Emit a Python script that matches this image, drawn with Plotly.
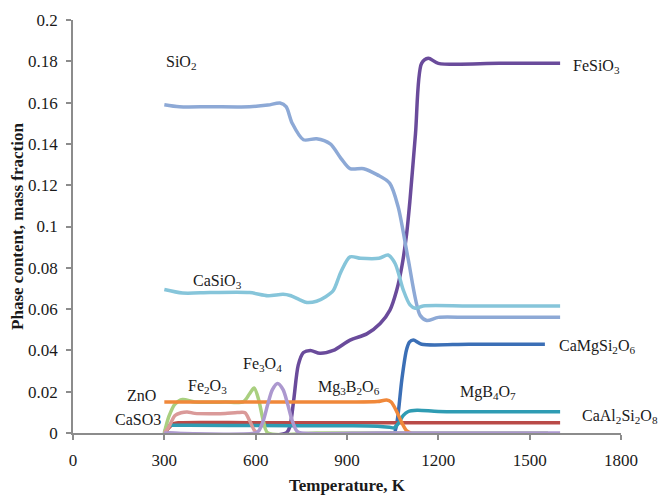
import plotly.graph_objects as go

# Phase composition versus temperature (mass fractions)
t_sio2 = [300, 350, 450, 580, 640, 680, 700, 720, 757, 800, 845, 880, 910, 955, 1000, 1040, 1068, 1100, 1140, 1162, 1200, 1300, 1600]
sio2 = [0.159, 0.158, 0.158, 0.158, 0.1588, 0.1598, 0.158, 0.150, 0.142, 0.1425, 0.140, 0.133, 0.128, 0.128, 0.125, 0.121, 0.1095, 0.085, 0.057, 0.0545, 0.056, 0.056, 0.056]

t_fesio3 = [300, 700, 712, 725, 740, 757, 780, 811, 855, 910, 965, 1009, 1041, 1063, 1080, 1096, 1107, 1125, 1145, 1167, 1200, 1400, 1600]
fesio3 = [0.0, 0.0, 0.003, 0.016, 0.033, 0.039, 0.040, 0.0386, 0.040, 0.045, 0.048, 0.053, 0.0595, 0.069, 0.0805, 0.0966, 0.113, 0.145, 0.179, 0.1815, 0.179, 0.179, 0.179]

t_casio3 = [300, 360, 450, 580, 640, 690, 713, 745, 768, 800, 830, 855, 880, 910, 945, 1005, 1035, 1058, 1085, 1107, 1124, 1150, 1300, 1600]
casio3 = [0.0695, 0.0678, 0.068, 0.068, 0.0665, 0.0672, 0.0666, 0.0645, 0.0632, 0.0638, 0.066, 0.069, 0.078, 0.0853, 0.0846, 0.0846, 0.0862, 0.0821, 0.0692, 0.062, 0.0604, 0.0615, 0.0615, 0.0615]

t_camgsi2o6 = [1040, 1055, 1065, 1080, 1095, 1105, 1118, 1145, 1300, 1550]
camgsi2o6 = [0.0, 0.0, 0.006, 0.0257, 0.040, 0.044, 0.045, 0.043, 0.043, 0.043]

t_mgb4o7 = [300, 312, 340, 600, 900, 1000, 1040, 1055, 1070, 1085, 1100, 1130, 1200, 1400, 1600]
mgb4o7 = [0.0, 0.0035, 0.0037, 0.0036, 0.0035, 0.0033, 0.0028, 0.0025, 0.005, 0.0085, 0.0103, 0.011, 0.0104, 0.0103, 0.0103]

t_caal2si2o8 = [300, 330, 350, 600, 1000, 1600]
caal2si2o8 = [0.0, 0.0045, 0.005, 0.005, 0.005, 0.005]

t_zno = [300, 600, 900, 1000, 1030, 1045, 1062, 1080, 1095, 1110]
zno = [0.015, 0.015, 0.015, 0.0152, 0.016, 0.015, 0.0108, 0.005, 0.0012, 0.0]

t_fe2o3 = [300, 315, 335, 360, 400, 500, 560, 580, 595, 610, 625, 640, 800, 1100, 1400, 1560]
fe2o3 = [0.0, 0.008, 0.014, 0.0162, 0.015, 0.015, 0.0152, 0.019, 0.0218, 0.016, 0.006, 0.0, 0.0, 0.0, 0.0, 0.0]

t_caso3 = [300, 315, 335, 355, 375, 400, 450, 500, 540, 565, 580, 595, 605]
caso3 = [0.0, 0.003, 0.0085, 0.0098, 0.0102, 0.0095, 0.0093, 0.0094, 0.0099, 0.0098, 0.006, 0.0015, 0.0]

t_fe3o4 = [300, 600, 610, 625, 640, 655, 672, 690, 705, 720, 735, 750, 1000, 1300, 1600]
fe3o4 = [0.0, 0.0, 0.001, 0.006, 0.014, 0.021, 0.024, 0.021, 0.014, 0.006, 0.001, 0.0, 0.0, 0.0, 0.0]

x_ticks = [0, 300, 600, 900, 1200, 1500, 1800]
y_ticks = [0, 0.02, 0.04, 0.06, 0.08, 0.1, 0.12, 0.14, 0.16, 0.18, 0.2]
y_tick_text = ["0", "0.02", "0.04", "0.06", "0.08", "0.1", "0.12", "0.14", "0.16", "0.18", "0.2"]

# (label, x, y) placed next to the curves
labels = [
    ("SiO<sub>2</sub>", 355, 0.1795),
    ("FeSiO<sub>3</sub>", 1719, 0.1775),
    ("CaSiO<sub>3</sub>", 475, 0.0732),
    ("Fe<sub>3</sub>O<sub>4</sub>", 621, 0.0330),
    ("Fe<sub>2</sub>O<sub>3</sub>", 442, 0.0224),
    ("ZnO", 224, 0.0184),
    ("CaSO3", 212, 0.0063),
    ("Mg<sub>3</sub>B<sub>2</sub>O<sub>6</sub>", 905, 0.0222),
    ("MgB<sub>4</sub>O<sub>7</sub>", 1364, 0.0196),
    ("CaMgSi<sub>2</sub>O<sub>6</sub>", 1722, 0.0418),
    ("CaAl<sub>2</sub>Si<sub>2</sub>O<sub>8</sub>", 1797, 0.0079),
]

series = [
    ("FeSiO3", t_fesio3, fesio3, "#6A4B9B"),
    ("SiO2", t_sio2, sio2, "#8DA9D6"),
    ("CaSiO3", t_casio3, casio3, "#86C5DA"),
    ("CaMgSi2O6", t_camgsi2o6, camgsi2o6, "#3B6FB6"),
    ("CaAl2Si2O8", t_caal2si2o8, caal2si2o8, "#B94A48"),
    ("MgB4O7", t_mgb4o7, mgb4o7, "#2F9CB3"),
    ("Fe2O3", t_fe2o3, fe2o3, "#A9CF7F"),
    ("CaSO3", t_caso3, caso3, "#DA9A99"),
    ("ZnO", t_zno, zno, "#F0883A"),
    ("Fe3O4", t_fe3o4, fe3o4, "#AC98CF"),
]

fig = go.Figure()
for name, xs, ys, color in series:
    fig.add_trace(go.Scatter(
        x=xs, y=ys, name=name, mode="lines",
        line=dict(color=color, width=3.5, shape="spline", smoothing=0.8),
        showlegend=False, cliponaxis=False,
    ))

serif = "Liberation Serif, Times New Roman, serif"
for text, x, y in labels:
    fig.add_annotation(x=x, y=y, text=text, showarrow=False,
                       xanchor="center", yanchor="middle",
                       font=dict(family=serif, size=16, color="#1a1a1a"))

axis_color = "#8c8c8c"
fig.update_layout(
    width=658, height=495,
    margin=dict(l=73, r=37, t=20, b=62),
    paper_bgcolor="white", plot_bgcolor="white",
    font=dict(family=serif, size=17, color="#1a1a1a"),
    xaxis=dict(
        range=[0, 1800], tickvals=x_ticks, showgrid=False, zeroline=False,
        automargin=False,
        showline=True, linecolor=axis_color, linewidth=1.5,
        ticks="outside", ticklen=5, tickwidth=1.5, tickcolor=axis_color,
        ticklabelstandoff=6,
        title=dict(text="<b>Temperature, K</b>", standoff=12,
                   font=dict(family=serif, size=17, color="#1a1a1a")),
    ),
    yaxis=dict(
        range=[0, 0.2], tickvals=y_ticks, ticktext=y_tick_text,
        showgrid=False, zeroline=False, automargin=False,
        showline=True, linecolor=axis_color, linewidth=1.5,
        ticks="outside", ticklen=5, tickwidth=1.5, tickcolor=axis_color,
        ticklabelstandoff=5,
        title=dict(text="<b>Phase content, mass fraction</b>", standoff=0,
                   font=dict(family=serif, size=17, color="#1a1a1a")),
    ),
)

fig.write_html("out.html")
